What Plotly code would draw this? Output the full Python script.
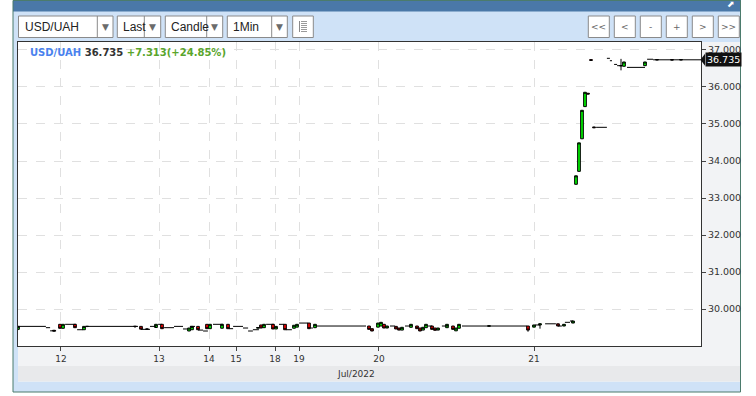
import plotly.graph_objects as go

# ---------------- data ----------------
# candle bar indices (1-minute bars, sparse trading), OHLC
cndl_idx = [0, 12, 14, 15, 19, 22, 23, 39, 41, 43, 46, 48, 57, 58, 60, 63, 64, 68, 70,
            80, 81, 82, 85, 86, 89, 92, 93, 97, 99, 117, 118, 120, 121, 122, 123, 126, 127,
            128, 131, 133, 134, 135, 136, 138, 139, 140, 143, 145, 146, 147, 157, 170, 172,
            174, 180, 182, 185, 186, 187, 188, 189, 190, 191, 192, 201, 202, 209, 213, 218, 221]
cndl_open = [29.45, 29.425, 29.586, 29.478, 29.586, 29.44, 29.53, 29.53, 29.53, 29.45, 29.50, 29.586, 29.405, 29.44, 29.53, 29.586, 29.468, 29.48, 29.586,
             29.48, 29.568, 29.495, 29.586, 29.46, 29.586, 29.48, 29.51, 29.62, 29.495, 29.54, 29.468, 29.51, 29.54, 29.586, 29.486, 29.53, 29.486,
             29.43, 29.505, 29.54, 29.486, 29.43, 29.495, 29.54, 29.486, 29.43, 29.495, 29.54, 29.41, 29.48, 29.535, 29.54, 29.51,
             29.568, 29.60, 29.54, 29.62, 33.37, 33.72, 34.60, 35.47, 35.83, 36.74, 34.92, 36.576, 36.56, 36.576, 36.73, 36.74, 36.73]
cndl_high = [29.53, 29.425, 29.586, 29.586, 29.586, 29.53, 29.53, 29.53, 29.53, 29.46, 29.586, 29.586, 29.486, 29.53, 29.53, 29.586, 29.586, 29.586, 29.586,
             29.50, 29.568, 29.586, 29.586, 29.53, 29.586, 29.56, 29.586, 29.62, 29.586, 29.54, 29.468, 29.62, 29.64, 29.586, 29.54, 29.53, 29.486,
             29.505, 29.586, 29.54, 29.486, 29.505, 29.586, 29.54, 29.486, 29.486, 29.586, 29.54, 29.486, 29.586, 29.545, 29.54, 29.568,
             29.60, 29.60, 29.586, 29.676, 33.60, 34.49, 35.37, 35.857, 35.83, 36.74, 34.92, 36.76, 36.676, 36.676, 36.74, 36.74, 36.74]
cndl_low = [29.43, 29.405, 29.478, 29.478, 29.495, 29.44, 29.51, 29.49, 29.455, 29.45, 29.50, 29.468, 29.405, 29.44, 29.44, 29.468, 29.468, 29.48, 29.468,
            29.48, 29.486, 29.495, 29.46, 29.46, 29.44, 29.48, 29.51, 29.468, 29.495, 29.45, 29.405, 29.51, 29.54, 29.486, 29.486, 29.46, 29.43,
            29.43, 29.505, 29.468, 29.405, 29.43, 29.495, 29.45, 29.424, 29.43, 29.495, 29.45, 29.41, 29.48, 29.535, 29.386, 29.51,
            29.468, 29.54, 29.54, 29.62, 33.37, 33.72, 34.60, 35.47, 35.81, 36.72, 34.90, 36.45, 36.56, 36.576, 36.73, 36.73, 36.73]
cndl_close = [29.53, 29.405, 29.478, 29.586, 29.495, 29.53, 29.53, 29.53, 29.455, 29.46, 29.586, 29.468, 29.486, 29.53, 29.44, 29.468, 29.586, 29.586, 29.468,
              29.50, 29.486, 29.586, 29.46, 29.53, 29.44, 29.56, 29.586, 29.468, 29.586, 29.45, 29.405, 29.62, 29.64, 29.486, 29.54, 29.46, 29.43,
              29.505, 29.586, 29.468, 29.405, 29.505, 29.586, 29.45, 29.424, 29.486, 29.586, 29.45, 29.486, 29.586, 29.545, 29.43, 29.568,
              29.60, 29.54, 29.586, 29.676, 33.60, 34.49, 35.37, 35.857, 35.81, 36.72, 34.90, 36.576, 36.676, 36.676, 36.74, 36.73, 36.74]

# runs of unchanged (flat) minute bars: start bar, end bar, price
flat_start = [0, 9.3, 10.7, 15.7, 19.7, 23.3, 41, 44, 46.7, 48.7, 52, 55, 57.3, 60, 61.7, 65, 70.3, 71.7, 75, 76.7,
              78.3, 82.7, 87, 89.3, 93.7, 97.7, 99.3, 124, 129, 136.7, 141.3, 148, 172.3, 175.7, 180, 182.3, 184,
              192.7, 196.3, 197.3, 198.7, 199.7, 203, 209.7, 211.7]
flat_end = [9.3, 10.7, 12.7, 19.3, 21.7, 40, 44, 46, 48, 52, 55, 56.5, 59, 61.7, 63.3, 68.3, 71.7, 75, 76.7, 78.3,
            80.3, 85.3, 88.7, 91.3, 96.7, 98.3, 116, 125.7, 130.7, 138, 143.3, 169.7, 174, 179.3, 181.3, 184, 185,
            196.3, 197.3, 198, 199.7, 201.3, 209, 211.7, 227.7]
flat_price = [29.53, 29.495, 29.41, 29.586, 29.44, 29.53, 29.45, 29.53, 29.586, 29.495, 29.53, 29.46, 29.53, 29.43, 29.405, 29.586, 29.468, 29.53, 29.486, 29.405,
              29.44, 29.586, 29.586, 29.44, 29.62, 29.486, 29.54, 29.54, 29.54, 29.54, 29.54, 29.54, 29.568, 29.60, 29.54, 29.64, 29.676,
              34.91, 36.775, 36.71, 36.61, 36.576, 36.53, 36.75, 36.735]

# day boundaries (bar position) and labels
day_pos = [14.33, 47, 63.67, 72.67, 85.67, 93.67, 120.33, 172]
day_labels = ["12", "13", "14", "15", "18", "19", "20", "21"]
y_ticks = [30, 31, 32, 33, 34, 35, 36, 37]

symbol = "USD/UAH"
last_price = 36.735
change = 7.313
change_pct = 24.85
month_label = "Jul/2022"

# ---------------- layout helpers ----------------
W, H = 756, 396
ML, MR, MT, MB = 18, 55, 42, 50
PW, PH = W - ML - MR, H - MT - MB
Y0, Y1 = 29.0, 37.216


def px(x):
    return (x - ML) / PW


def py(y):
    return (H - MB - y) / PH


flat_x, flat_y = [], []
for s, e, p in zip(flat_start, flat_end, flat_price):
    flat_x += [s, e, None]
    flat_y += [p, p, None]

fig = go.Figure()
fig.add_trace(go.Scatter(x=flat_x, y=flat_y, mode="lines", line=dict(color="black", width=1),
                         hoverinfo="skip", showlegend=False))
fig.add_trace(go.Candlestick(
    x=cndl_idx, open=cndl_open, high=cndl_high, low=cndl_low, close=cndl_close,
    increasing=dict(line=dict(color="#000000", width=1), fillcolor="#00f000"),
    decreasing=dict(line=dict(color="#000000", width=1), fillcolor="#f00000"),
    showlegend=False))

shapes = []


def rect(x0, y0, x1, y1, fill=None, line=None, lw=1):
    shapes.append(dict(type="rect", xref="paper", yref="paper", x0=px(x0), x1=px(x1), y0=py(y0), y1=py(y1),
                       fillcolor=fill if fill else "rgba(0,0,0,0)",
                       line=dict(color=line if line else "rgba(0,0,0,0)", width=lw if line else 0),
                       layer="below"))


def hline(x0, x1, y, color, lw=1):
    shapes.append(dict(type="line", xref="paper", yref="paper", x0=px(x0), x1=px(x1), y0=py(y), y1=py(y),
                       line=dict(color=color, width=lw), layer="below"))


def vline(x, y0, y1, color, lw=1):
    shapes.append(dict(type="line", xref="paper", yref="paper", x0=px(x), x1=px(x), y0=py(y0), y1=py(y1),
                       line=dict(color=color, width=lw), layer="below"))


# widget background (kept outside the plotting area)
LB = "#cfe2f7"
rect(13, 0, 741, 42, fill=LB)          # toolbar
rect(13, 42, 18, 392, fill=LB)         # left strip
rect(13, 381.5, 741, 392, fill=LB)     # bottom strip
rect(740, 42, 741, 392, fill=LB)
rect(13, 0, 741, 11.5, fill="#4a78a8")  # title bar
rect(701, 42, 740, 381.5, fill="#f2f3f5")
rect(18, 346, 740, 366, fill="#f2f3f5")
rect(18, 366, 740, 381.5, fill="#e8e9eb")

annotations = []


def text(x, y, s, size=12, color="#222", family="Liberation Sans", xanchor="left"):
    annotations.append(dict(xref="paper", yref="paper", x=px(x), y=py(y), text=s, showarrow=False,
                            xanchor=xanchor, yanchor="middle", font=dict(size=size, color=color, family=family)))


# dropdowns
dropdowns = [("USD/UAH", 18.5, 97.3, 113), ("Last", 117.3, 144.3, 160.7),
             ("Candle", 165.3, 206.7, 222.7), ("1Min", 227.3, 271.7, 287.3)]
for label, x0, xd, x1 in dropdowns:
    rect(x0, 16, x1, 37.5, fill="#ffffff", line="#8a8a8a")
    vline(xd, 16, 37.5, "#8a8a8a")
    text(x0 + 4, 27, label, size=12, color="#222")
    text((xd + x1) / 2, 27.5, "▼", size=9, color="#6b6b6b", family="DejaVu Sans", xanchor="center")

# list icon button
rect(292.7, 16, 313.3, 37.5, fill="#ffffff", line="#8a8a8a")
vline(299.5, 21, 32, "#8a8a8a")
for yy in [21.5, 23.5, 25.5, 27.5, 29.5, 31.5]:
    hline(301, 307, yy, "#9a9a9a")

# nav buttons
for lab, x0 in [("<<", 588.3), ("<", 614.3), ("-", 640.3), ("+", 666.3), (">", 692.3), (">>", 718.3)]:
    rect(x0, 16, x0 + 21, 37.5, fill="#ffffff", line="#8a8a8a")
    text(x0 + 10.5, 27, lab, size=9, color="#666", family="DejaVu Sans", xanchor="center")

# top-right icon
text(731, 4, "⬈", size=9, color="#ffffff", family="DejaVu Sans", xanchor="center")

# frame border
rect(13, 0.5, 740.5, 392, line="#4b7b6c")

# header
text(28, 52,
     f"<b><span style='color:#4a82ee'>{symbol}</span> <span style='color:#333333'>{last_price:.3f}</span> "
     f"<span style='color:#5aa52c'>+{change:.3f}(+{change_pct:.2f}%)</span></b>",
     size=10, family="DejaVu Sans")

# month label
text(356, 373.5, month_label, size=9, color="#333", family="DejaVu Sans", xanchor="center")

# last price marker
annotations.append(dict(xref="paper", yref="y", x=px(704.5), y=last_price, text=f"{last_price:.3f}",
                        showarrow=False, xanchor="left", yanchor="middle", bgcolor="#111111",
                        font=dict(size=9.5, color="#ffffff", family="DejaVu Sans"), borderpad=1))
u = 6 / (PH / (Y1 - Y0))
shapes.append(dict(type="path", xref="paper", yref="y",
                   path=f"M {px(700.5)},{last_price} L {px(705)},{last_price + u} L {px(705)},{last_price - u} Z",
                   fillcolor="#111111", line=dict(width=0), layer="above"))

fig.update_layout(
    width=W, height=H, margin=dict(l=ML, r=MR, t=MT, b=MB, pad=0),
    paper_bgcolor="#ffffff", plot_bgcolor="#ffffff", showlegend=False,
    boxgap=0.05, boxgroupgap=0.05,
    shapes=shapes, annotations=annotations, hovermode=False,
    xaxis=dict(range=[0, PW / 3], tickmode="array", tickvals=day_pos, ticktext=day_labels,
               ticks="outside", ticklen=4, tickcolor="#444", showline=True, linecolor="#333", linewidth=1,
               mirror=True, showgrid=True, gridcolor="#e0e0e0", griddash="dash", zeroline=False,
               rangeslider=dict(visible=False),
               tickfont=dict(family="DejaVu Sans", size=9, color="#333")),
    yaxis=dict(side="right", range=[Y0, Y1], tickmode="array", tickvals=y_ticks,
               tickformat=".3f", ticks="outside", ticklen=4, tickcolor="#444", showline=True,
               linecolor="#333", linewidth=1, mirror=True, showgrid=True, gridcolor="#e0e0e0",
               griddash="dash", zeroline=False,
               tickfont=dict(family="DejaVu Sans", size=9.5, color="#333")),
)

fig.write_html("out.html")
